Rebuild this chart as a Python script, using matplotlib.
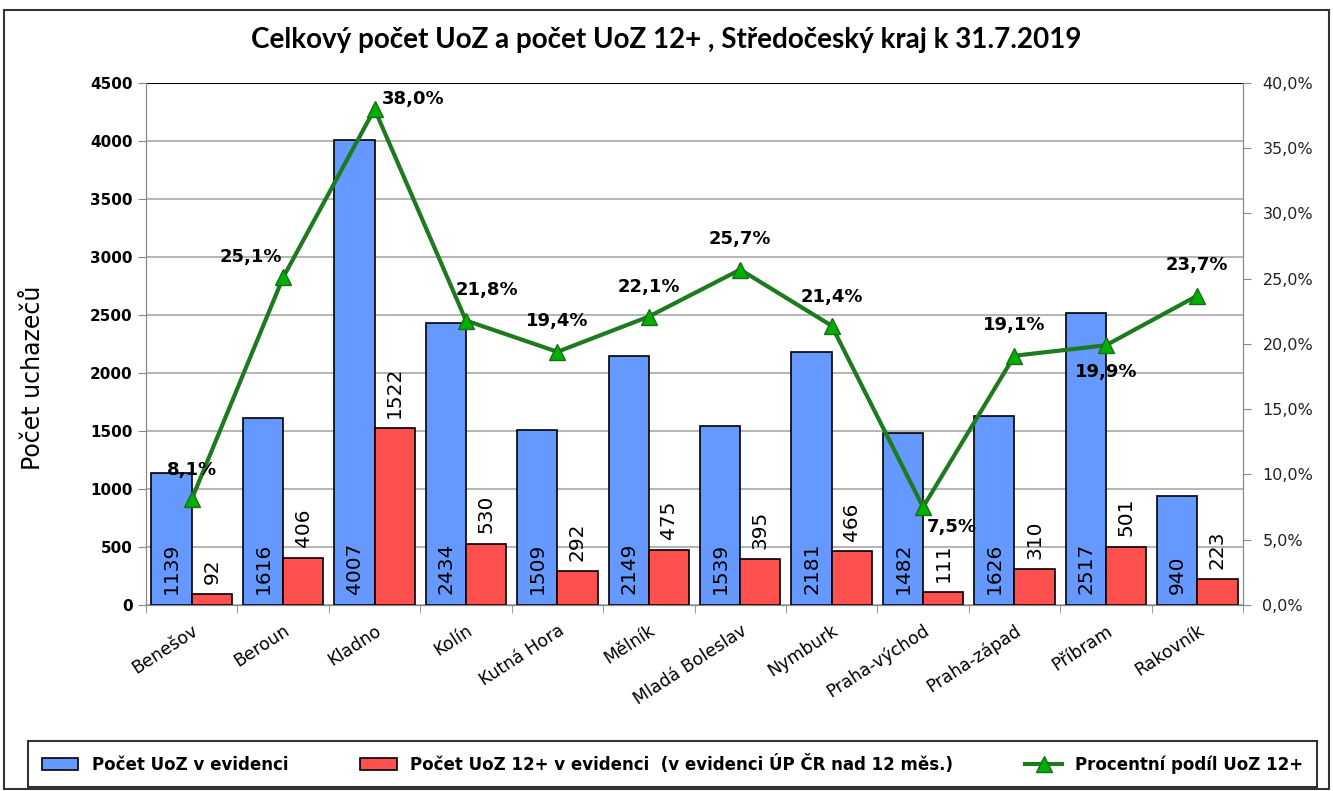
import matplotlib
matplotlib.use("Agg")
import matplotlib.pyplot as plt
import matplotlib.transforms as mtransforms
import numpy as np
from matplotlib.patches import Rectangle

categories = ["Benešov", "Beroun", "Kladno", "Kolín", "Kutná Hora", "Mělník",
              "Mladá Boleslav", "Nymburk", "Praha-východ", "Praha-západ", "Příbram", "Rakovník"]
uoz_total = [1139, 1616, 4007, 2434, 1509, 2149, 1539, 2181, 1482, 1626, 2517, 940]
uoz_12 = [92, 406, 1522, 530, 292, 475, 395, 466, 111, 310, 501, 223]
pct_12 = [8.1, 25.1, 38.0, 21.8, 19.4, 22.1, 25.7, 21.4, 7.5, 19.1, 19.9, 23.7]
yticks_left = [0, 500, 1000, 1500, 2000, 2500, 3000, 3500, 4000, 4500]
yticks_right = [0, 5, 10, 15, 20, 25, 30, 35, 40]

# label offsets (points) for percentage labels
pct_offsets = [(0, 21), (-23, 15), (28, 7), (15, 22), (0, 22), (0, 21),
               (0, 22), (0, 21), (21, -14), (0, 22), (0, -19), (0, 22)]

fig = plt.figure(figsize=(13.33, 7.91), dpi=100)
ax = fig.add_axes([146 / 1333, 1 - 605 / 791, 1097 / 1333, 522 / 791])
ax2 = ax.twinx()

x = np.arange(len(categories))
w = 0.44
blue = "#6699ff"
red = "#ff5050"
b1 = ax.bar(x - w / 2, uoz_total, w, color=blue, edgecolor="black", linewidth=1.2,
            label="Počet UoZ v evidenci", zorder=3)
b2 = ax.bar(x + w / 2, uoz_12, w, color=red, edgecolor="black", linewidth=1.2,
            label="Počet UoZ 12+ v evidenci  (v evidenci ÚP ČR nad 12 měs.)", zorder=3)

for xi, v in zip(x, uoz_total):
    ax.text(xi - w / 2, 95, str(v), rotation=90, ha="center", va="bottom",
            fontsize=14.5, color="black", zorder=5)
for xi, v in zip(x, uoz_12):
    ax.text(xi + w / 2, v + 90, str(v), rotation=90, ha="center", va="bottom",
            fontsize=14.5, color="black", zorder=5)

ax.set_xlim(-0.5, len(categories) - 0.5)
ax.set_ylim(0, 4500)
ax.set_yticks(yticks_left)
ax.set_yticklabels([str(t) for t in yticks_left], fontsize=11, fontweight="bold")
ax.yaxis.grid(True, color="#a0a0a0", linewidth=1.1, zorder=0)
ax.set_axisbelow(True)
ax.set_xticks(x)
ax.set_xticklabels(categories, rotation=33, ha="right", rotation_mode="anchor",
                   fontsize=12.5)
shift = mtransforms.ScaledTranslation(-7 / 100, -2 / 100, fig.dpi_scale_trans)
for lbl in ax.get_xticklabels():
    lbl.set_transform(lbl.get_transform() + shift)
ax.tick_params(axis="x", length=0, pad=12)
ax.set_xticks(np.arange(-0.5, len(categories) + 0.5, 1), minor=True)
ax.tick_params(axis="x", which="minor", length=6, color="#888888")
ax.tick_params(axis="y", length=6, color="#888888")
ax.set_ylabel("Počet uchazečů", fontsize=17)
ax.yaxis.set_label_coords(-0.092, 0.435)

line, = ax2.plot(x, pct_12, color="#1e7a1e", linewidth=3, marker="^", markersize=12,
                 markerfacecolor="#00b000", markeredgecolor="#1e6a1e", markeredgewidth=1,
                 label="Procentní podíl UoZ 12+", zorder=6)
ax2.set_ylim(0, 40)
ax2.set_yticks(yticks_right)
ax2.set_yticklabels([f"{t:.1f}%".replace(".", ",") for t in yticks_right], fontsize=11.5,
                    color="#222222")
ax2.tick_params(axis="y", length=6, color="#888888", pad=8)
for xi, v, off in zip(x, pct_12, pct_offsets):
    ax2.annotate(f"{v:.1f}%".replace(".", ","), (xi, v), xytext=off, textcoords="offset points",
                 ha="center", va="center", fontsize=13, fontweight="bold", zorder=7)

for a in (ax, ax2):
    a.spines["top"].set_visible(False)
    a.spines["left"].set_color("#888888")
    a.spines["right"].set_color("#888888")
    a.spines["bottom"].set_color("#888888")
ax.axhline(4500, color="black", linewidth=1.5, zorder=1)

fig.text(0.5, 0.949, "Celkový počet UoZ a počet UoZ 12+ , Středočeský kraj k 31.7.2019",
         ha="center", va="center", fontsize=20, fontweight="bold", family="Lato")

leg = fig.legend(handles=[b1, b2, line], loc="center",
                 bbox_to_anchor=(20 / 1333, 4 / 791, 1305 / 1333, 46 / 791),
                 mode="expand", ncol=3, frameon=True, fancybox=False, edgecolor="black",
                 handlelength=2.2, borderpad=0.8,
                 prop={"weight": "bold", "size": 12})
leg.get_frame().set_linewidth(1.5)

fig.patches.append(Rectangle((0.003, 0.002), 0.994, 0.985, transform=fig.transFigure,
                             fill=False, edgecolor="#333333", linewidth=1.5))

fig.savefig("out.png", dpi=100)
